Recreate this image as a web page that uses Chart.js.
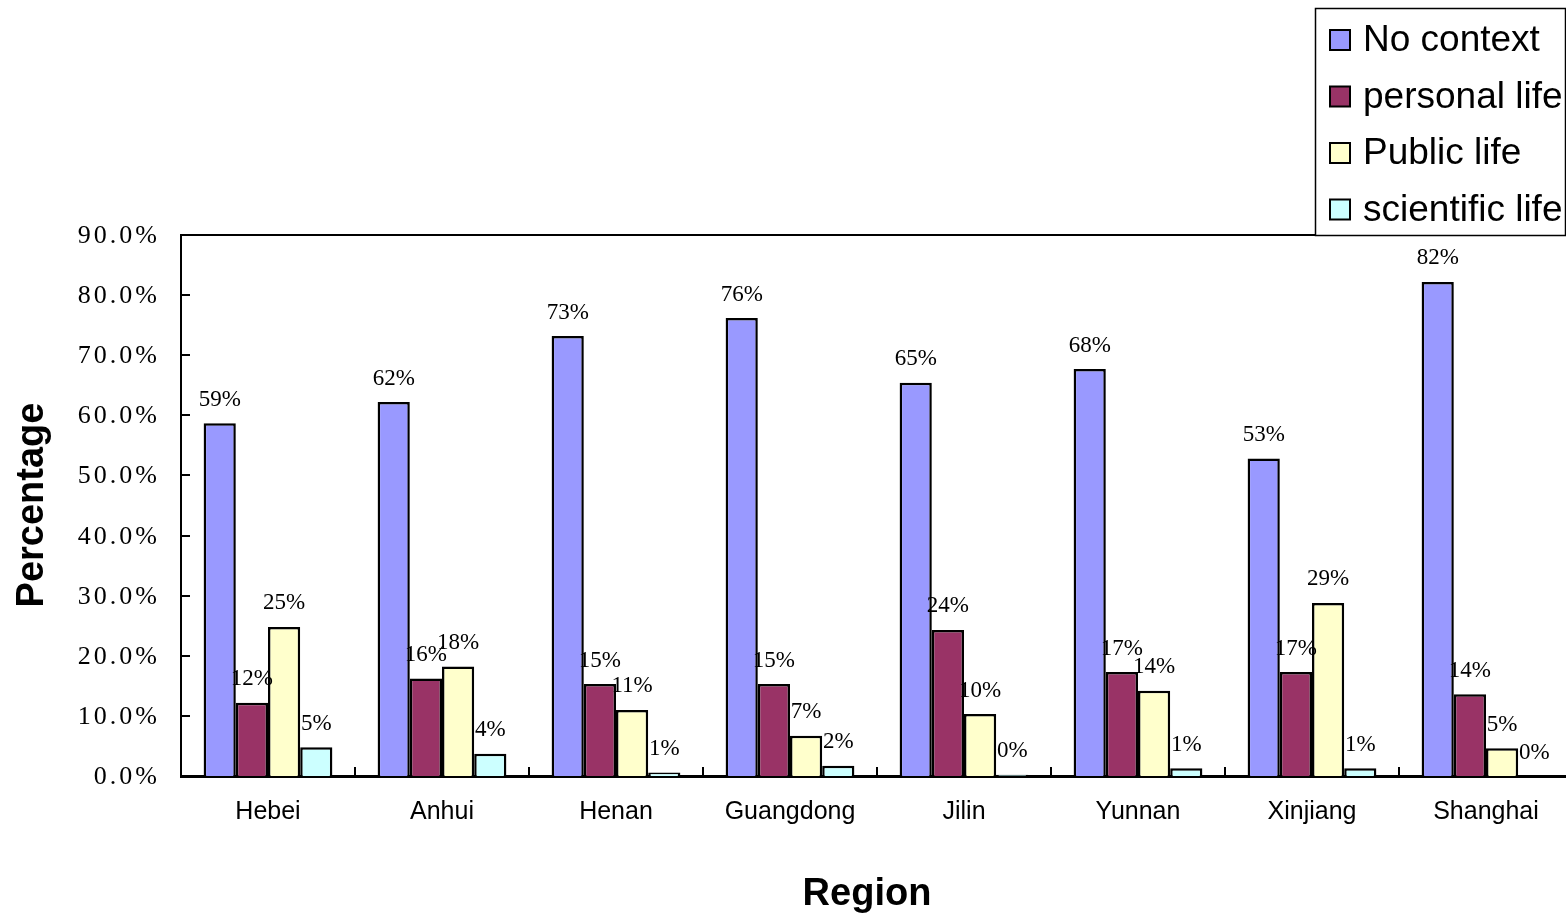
<!DOCTYPE html>
<html>
<head>
<meta charset="utf-8">
<script src="https://cdn.jsdelivr.net/npm/chart.js@4.4.1/dist/chart.umd.min.js"></script>
<style>
  html, body { margin: 0; padding: 0; background: #fff; overflow: hidden; }
  #wrap { width: 1573px; height: 914px; position: relative; }
</style>
</head>
<body>
<div id="wrap"><canvas id="chart"></canvas></div>
<script>
// data
const regions = ['Hebei', 'Anhui', 'Henan', 'Guangdong', 'Jilin', 'Yunnan', 'Xinjiang', 'Shanghai'];
const noContext = [58.7, 62.2, 73.2, 76.2, 65.4, 67.7, 52.8, 82.2];
const personalLife = [12.2, 16.2, 15.3, 15.3, 24.3, 17.3, 17.3, 13.6];
const publicLife = [24.8, 18.2, 11.0, 6.7, 10.3, 14.2, 28.8, 4.6];
const scientificLife = [4.8, 3.7, 0.6, 1.7, 0.2, 1.3, 1.3, 0.0];
const seriesNames = ['No context', 'personal life', 'Public life', 'scientific life'];
const seriesColors = ['#9999FF', '#993366', '#FFFFCC', '#CCFFFF'];
const yTicks = [0, 10, 20, 30, 40, 50, 60, 70, 80, 90];

const serif = '"Liberation Serif", "DejaVu Serif", serif';
const sans = '"Liberation Sans", Arial, sans-serif';

// axis titles, inner tick marks, y labels, top frame line, value labels, legend box
const decorations = {
    id: 'decorations',
    afterDraw(chart) {
        const { ctx, chartArea: area, scales } = chart;
        ctx.save();
        ctx.strokeStyle = '#000';
        ctx.lineWidth = 2;

        // top frame line
        ctx.beginPath();
        ctx.moveTo(area.left, area.top);
        ctx.lineTo(area.right, area.top);
        ctx.stroke();

        // y ticks pointing inward + labels with the wide SimSun-like spacing
        ctx.fillStyle = '#000';
        ctx.font = '26px ' + serif;
        ctx.textAlign = 'right';
        ctx.textBaseline = 'middle';
        ctx.letterSpacing = '3px';
        ctx.beginPath();
        scales.y.ticks.forEach(t => {
            const y = Math.round(scales.y.getPixelForValue(t.value));
            ctx.moveTo(area.left, y);
            ctx.lineTo(area.left + 9, y);
            ctx.fillText(t.value.toFixed(1) + '%', 160, y + 1);
        });
        ctx.letterSpacing = '0px';
        // x category boundary ticks pointing up
        const step = (area.right - area.left) / regions.length;
        for (let i = 1; i < regions.length; i++) {
            const x = Math.round(area.left + step * i);
            ctx.moveTo(x, area.bottom);
            ctx.lineTo(x, area.bottom - 9);
        }
        ctx.stroke();

        // value labels
        ctx.font = '23px ' + serif;
        ctx.textAlign = 'center';
        ctx.textBaseline = 'bottom';
        chart.data.datasets.forEach((ds, di) => {
            chart.getDatasetMeta(di).data.forEach((bar, i) => {
                ctx.fillText(Math.round(ds.data[i]) + '%', bar.x, bar.y - 12);
            });
        });

        // axis titles
        ctx.font = 'bold 38px ' + sans;
        ctx.textBaseline = 'middle';
        ctx.fillText('Region', 867, 895);
        ctx.save();
        ctx.translate(33, 505);
        ctx.rotate(-Math.PI / 2);
        ctx.fillText('Percentage', 0, 0);
        ctx.restore();

        // legend box (window edge is at x = 1566)
        const lx = 1315, ly = 8, rx = 1565;
        ctx.fillStyle = '#fff';
        ctx.fillRect(lx, ly, 1573 - lx, 235 - ly);
        ctx.lineWidth = 1.5;
        ctx.strokeRect(lx + 0.5, ly + 0.5, rx - lx, 235 - ly);
        ctx.font = '37px ' + sans;
        ctx.textAlign = 'left';
        ctx.textBaseline = 'middle';
        seriesNames.forEach((name, i) => {
            const cy = 40 + i * 56.5;
            ctx.fillStyle = seriesColors[i];
            ctx.fillRect(1330, cy - 10, 20, 20);
            ctx.lineWidth = 2;
            ctx.strokeRect(1330, cy - 10, 20, 20);
            ctx.fillStyle = '#000';
            ctx.fillText(name, 1363, cy + 1);
        });

        ctx.restore();
    }
};

const datasets = [noContext, personalLife, publicLife, scientificLife].map((values, i) => ({
    label: seriesNames[i],
    data: values,
    backgroundColor: seriesColors[i],
    borderColor: '#000',
    borderWidth: 2.5,
    borderSkipped: 'bottom',
    categoryPercentage: 0.74,
    barPercentage: 1.0
}));

new Chart(document.getElementById('chart'), {
    type: 'bar',
    data: { labels: regions, datasets: datasets },
    options: {
        responsive: true,
        maintainAspectRatio: false,
        animation: false,
        layout: { padding: { top: 235, right: 0, left: 0, bottom: 0 } },
        plugins: {
            legend: { display: false },
            tooltip: { enabled: false }
        },
        scales: {
            x: {
                grid: { display: false },
                border: { display: true, color: '#000', width: 3 },
                ticks: { color: '#000', font: { family: sans, size: 25 }, padding: 13 },
                afterFit(scale) { scale.height = 914 - 776; }
            },
            y: {
                min: 0,
                max: 90,
                afterBuildTicks(scale) { scale.ticks = yTicks.map(v => ({ value: v })); },
                grid: { display: false },
                border: { display: true, color: '#000', width: 2 },
                ticks: { display: false },
                afterFit(scale) { scale.width = 181; }
            }
        }
    },
    plugins: [decorations]
});
</script>
</body>
</html>
